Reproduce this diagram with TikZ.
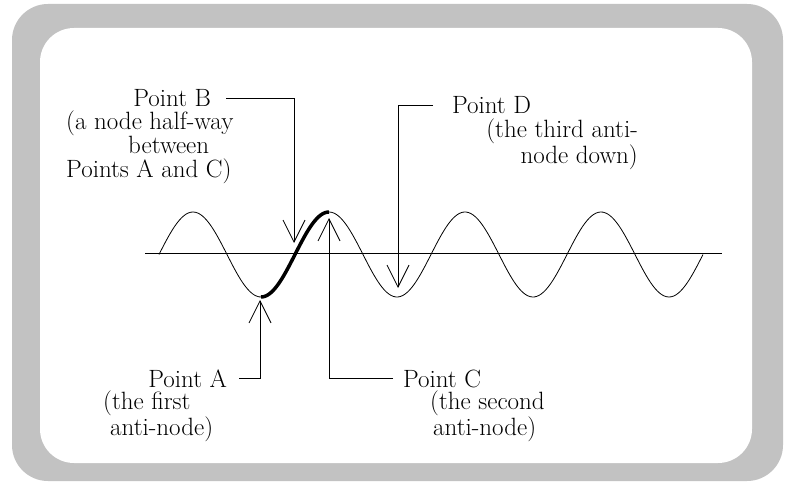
\documentclass[tikz,border=0pt]{standalone}
\usetikzlibrary{arrows.meta}
\tikzset{
  lbl/.style={inner sep=0pt, font=\fontsize{25}{24}\selectfont},
  desc/.style={inner sep=0pt, font=\fontsize{25}{24}\selectfont},
  ptr/.style={line width=0.8pt, -{Straight Barb[length=22pt, width=22pt, line width=0.8pt]}},
  wave/.style={line width=0.8pt},
}
\begin{document}
\begin{tikzpicture}[x=1pt, y=-1pt]
  \useasboundingbox (0,0) rectangle (790,484);
  \fill[white] (0,0) rectangle (790,484);
  \filldraw[fill=black!24, draw=none, rounded corners=36pt] (12,4) rectangle (783,481);
  \filldraw[fill=white, draw=none, rounded corners=34pt] (40,28) rectangle (752,463);
  \draw[wave] (145,253) -- (722,253);
  \draw[wave] plot[domain=159:703, samples=240, smooth] (\x, {254.5-42.5*sin(2.6470588*(\x-159))});
  \draw[line width=3.5pt] plot[domain=261:329, samples=40, smooth] (\x, {254.5-42.5*sin(2.6470588*(\x-159))});
  \coordinate (tA) at (260,300);
  \coordinate (tB) at (294,243);
  \coordinate (tC) at (329,218);
  \coordinate (tD) at (398,288);
  \node[lbl, anchor=base east, outer xsep=12pt] (pA) at (239,387) {Point A};
  \node[desc, anchor=north west, align=left] (dA) at (103,391) {(the first\\\hspace*{7pt}anti-node)};
  \node[lbl, anchor=base west, outer xsep=10pt] (pC) at (393,387) {Point C};
  \node[desc, anchor=north west, align=left] (dC) at (430,391) {(the second\\\hspace*{3pt}anti-node)};
  \node[lbl, anchor=base east, outer xsep=15pt] (pB) at (226,107) {Point B};
  \node[desc, anchor=north west, align=left] (dB) at (66,111) {(a node half-way\\\hspace*{62pt}between\\Points A and C)};
  \node[lbl, anchor=base west, outer xsep=19pt] (pD) at (433,114) {Point D};
  \node[desc, anchor=north east, align=right] (dD) at (638,119) {(the third anti-\\node down)};
  \draw[ptr] (pA.east) -| (tA);
  \draw[ptr] (pB.east) -| (tB);
  \draw[ptr] (pC.west) -| (tC);
  \draw[ptr] (pD.west) -| (tD);
\end{tikzpicture}
\end{document}
